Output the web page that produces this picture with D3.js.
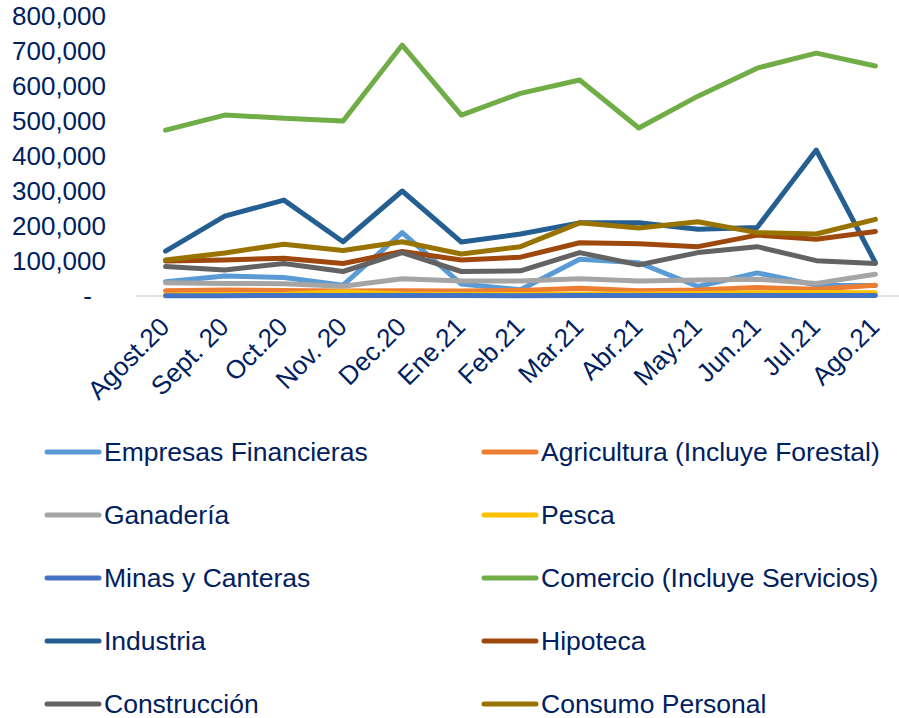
<!DOCTYPE html>
<html>
<head>
<meta charset="utf-8">
<script src="https://cdn.jsdelivr.net/npm/d3@7"></script>
<style>
  body { margin: 0; background: #fff; }
  text { font-family: "Liberation Sans", Arial, sans-serif; fill: #002060; }
</style>
</head>
<body>
<div id="chart"></div>
<script>
// Months on the x axis
var months = ["Agost.20", "Sept. 20", "Oct.20", "Nov. 20", "Dec.20", "Ene.21", "Feb.21",
              "Mar.21", "Abr.21", "May.21", "Jun.21", "Jul.21", "Ago.21"]

// Series names (legend order) and values
var seriesNames = ["Empresas Financieras", "Agricultura (Incluye Forestal)", "Ganadería", "Pesca",
                   "Minas y Canteras", "Comercio (Incluye Servicios)", "Industria", "Hipoteca",
                   "Construcción", "Consumo Personal"]

var empresasFinancieras = [41000, 57000, 53000, 31000, 181000, 34000, 18000, 105000, 95000, 27000, 66000, 31000, 30000]
var agricultura = [15000, 17000, 16000, 14000, 15000, 14000, 16000, 22000, 15000, 17000, 24000, 19000, 31000]
var ganaderia = [38000, 36000, 35000, 28000, 49000, 43000, 43000, 49000, 43000, 46000, 48000, 36000, 62000]
var pesca = [3000, 4000, 5000, 12000, 6000, 5000, 5000, 6000, 6000, 7000, 9000, 10000, 9000]
var minas = [1000, 1000, 1200, 1200, 1300, 1100, 1000, 1200, 1300, 1200, 1400, 1500, 1300]
var comercio = [474000, 517000, 508000, 500000, 717000, 517000, 579000, 617000, 480000, 571000, 651000, 694000, 657000]
var industria = [128000, 228000, 274000, 155000, 300000, 154000, 177000, 209000, 209000, 191000, 196000, 417000, 95000]
var hipoteca = [100000, 103000, 108000, 93000, 127000, 103000, 111000, 152000, 149000, 141000, 174000, 162000, 184000]
var construccion = [84000, 74000, 93000, 70000, 124000, 70000, 72000, 124000, 89000, 124000, 141000, 101000, 93000]
var consumo = [103000, 123000, 148000, 130000, 155000, 120000, 141000, 209000, 194000, 212000, 181000, 177000, 219000]

var yTicks = [0, 100000, 200000, 300000, 400000, 500000, 600000, 700000, 800000]

var seriesValues = [empresasFinancieras, agricultura, ganaderia, pesca, minas,
                    comercio, industria, hipoteca, construccion, consumo]
var colors = ["#5B9BD5", "#ED7D31", "#A5A5A5", "#FFC000", "#4472C4",
              "#70AD47", "#255E91", "#9E480E", "#636363", "#997300"]

var series = seriesNames.map(function (name, i) {
    return { name: name, values: seriesValues[i], color: colors[i] }
})

var width = 899
var height = 718

var svg = d3.select("#chart").append("svg")
    .attr("width", width)
    .attr("height", height)

// Scales
var x = d3.scalePoint()
    .domain(months)
    .range([136, 905])
    .padding(0.5)

var y = d3.scaleLinear()
    .domain([0, 800000])
    .range([296, 16])

// Y axis (labels only)
var yAxis = svg.append("g")
    .attr("transform", "translate(106,0)")
    .call(d3.axisLeft(y)
        .tickValues(yTicks)
        .tickSize(0)
        .tickPadding(0)
        .tickFormat(function (d) { return d === 0 ? "-" : d3.format(",")(d) }))
yAxis.select(".domain").remove()
yAxis.selectAll("text")
    .style("font-size", "26px")
    .attr("fill", "#002060")
    .attr("x", function (d) { return d === 0 ? -14 : 0 })

// Baseline
svg.append("line")
    .attr("x1", x.range()[0])
    .attr("x2", x.range()[1])
    .attr("y1", y(0))
    .attr("y2", y(0))
    .attr("stroke", "#D9D9D9")
    .attr("stroke-width", 1.5)

// X labels, rotated
svg.append("g")
    .selectAll("text")
    .data(months)
    .enter()
    .append("text")
    .attr("transform", function (d) { return "translate(" + (x(d) - 1) + ",322)rotate(-45)" })
    .attr("text-anchor", "end")
    .attr("dy", "0.35em")
    .style("font-size", "26px")
    .text(function (d) { return d })

// Lines
var line = d3.line()
    .x(function (d, i) { return x(months[i]) })
    .y(function (d) { return y(d) })

svg.append("g")
    .selectAll("path")
    .data(series)
    .enter()
    .append("path")
    .attr("d", function (d) { return line(d.values) })
    .attr("fill", "none")
    .attr("stroke", function (d) { return d.color })
    .attr("stroke-width", 5)
    .attr("stroke-linejoin", "round")
    .attr("stroke-linecap", "round")

// Legend, two columns
var legend = svg.append("g")
    .selectAll("g")
    .data(series)
    .enter()
    .append("g")
    .attr("transform", function (d, i) {
        var col = i % 2
        var row = Math.floor(i / 2)
        return "translate(" + (col === 0 ? 47 : 484) + "," + (452 + row * 63) + ")"
    })

legend.append("line")
    .attr("x1", 0)
    .attr("x2", 52)
    .attr("stroke", function (d) { return d.color })
    .attr("stroke-width", 5)
    .attr("stroke-linecap", "round")

legend.append("text")
    .attr("x", 57)
    .attr("dy", "0.35em")
    .style("font-size", "26.5px")
    .text(function (d) { return d.name })
</script>
</body>
</html>
